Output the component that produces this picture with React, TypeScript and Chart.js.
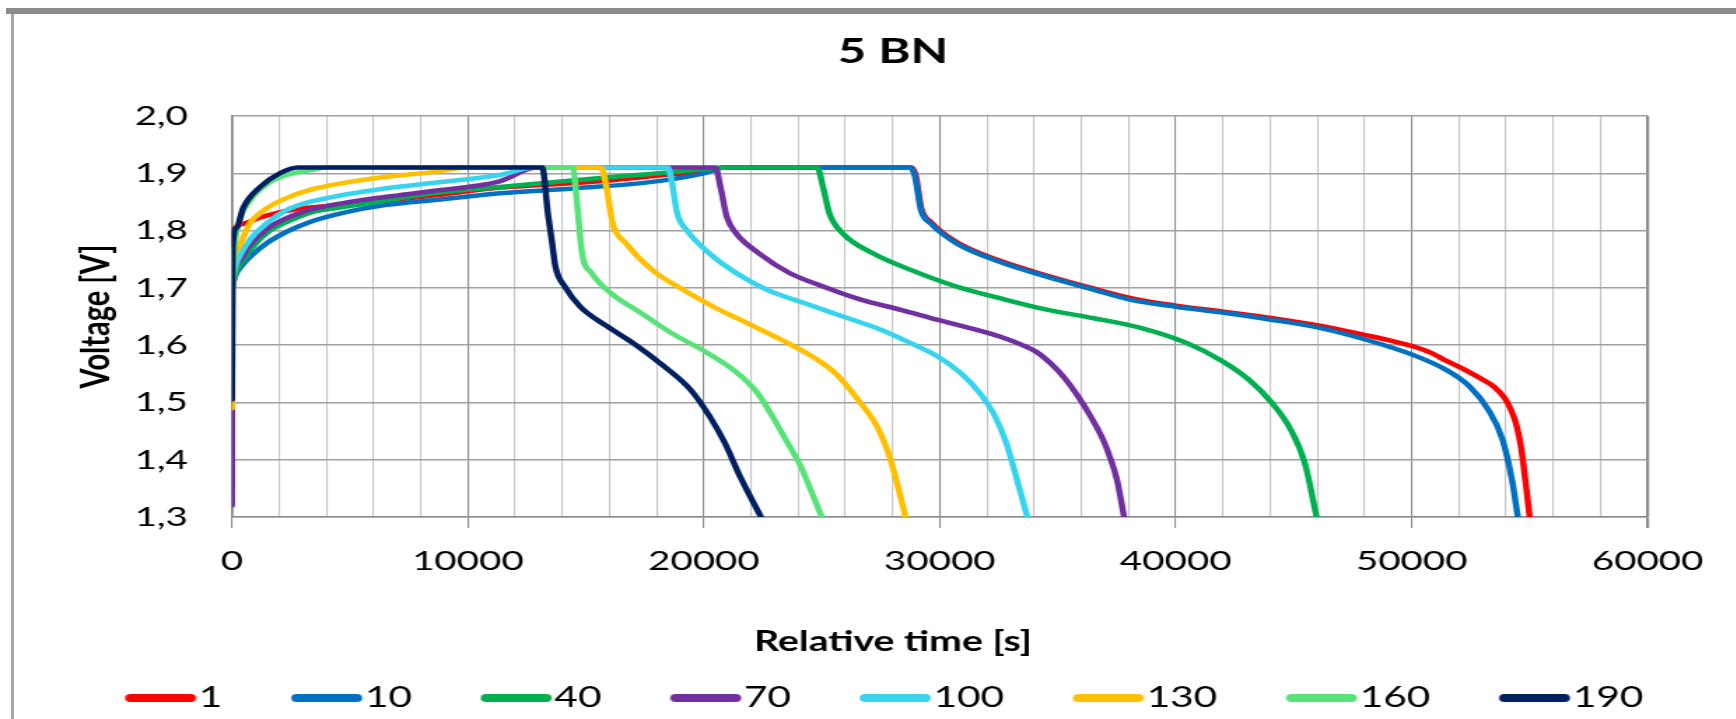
import React, { useEffect, useRef } from 'react';
import { Chart, registerables } from 'chart.js';

Chart.register(...registerables);

// ---------- data ----------
const seriesLabels = ['1', '10', '40', '70', '100', '130', '160', '190'];
const seriesColors = ['#FF0000', '#0070C0', '#00B050', '#7030A0', '#38D4EE', '#FFC000', '#5AE27A', '#002060'];

const xTickLabels = ['0', '10000', '20000', '30000', '40000', '50000', '60000'];
const yTickLabels = ['1,3', '1,4', '1,5', '1,6', '1,7', '1,8', '1,9', '2,0'];

const t1 = [0, 40, 500, 1200, 2800, 4700, 6500, 8500, 11400, 12900, 15600, 17800, 20000, 20800, 28800, 28980, 29220, 29620, 30700, 32500, 34500, 36500, 38100, 40000, 42100, 44100, 46100, 48100, 49100, 50050, 50800, 51450, 52300, 53000, 53500, 53930, 54200, 54430, 54600, 54730, 55000];
const v1 = [1.775, 1.797, 1.812, 1.823, 1.838, 1.845, 1.852, 1.861, 1.875, 1.879, 1.886, 1.895, 1.904, 1.91, 1.91, 1.896, 1.838, 1.815, 1.78, 1.748, 1.722, 1.699, 1.682, 1.669, 1.658, 1.647, 1.634, 1.617, 1.608, 1.598, 1.587, 1.573, 1.556, 1.54, 1.527, 1.508, 1.488, 1.462, 1.43, 1.394, 1.3];

const t10 = [0, 150, 400, 760, 1480, 2330, 3300, 4700, 6550, 8500, 11350, 14600, 17800, 20000, 20900, 28750, 28950, 29200, 29600, 30700, 32500, 34500, 36500, 38100, 40000, 42100, 44100, 46100, 48100, 50050, 51450, 52450, 53250, 53850, 54250, 54500];
const v10 = [1.7, 1.722, 1.738, 1.754, 1.778, 1.798, 1.815, 1.831, 1.845, 1.853, 1.865, 1.874, 1.885, 1.9, 1.91, 1.91, 1.894, 1.836, 1.813, 1.778, 1.746, 1.72, 1.697, 1.679, 1.667, 1.656, 1.644, 1.63, 1.609, 1.583, 1.557, 1.528, 1.487, 1.435, 1.365, 1.3];

const t40 = [0, 150, 400, 760, 1480, 2330, 3300, 4700, 6550, 8500, 11350, 16200, 19000, 21000, 24800, 25080, 25320, 25890, 27180, 28790, 30730, 32540, 34530, 36520, 38510, 40500, 41890, 43090, 44080, 44880, 45470, 45970];
const v40 = [1.7, 1.725, 1.745, 1.766, 1.796, 1.815, 1.831, 1.841, 1.853, 1.865, 1.876, 1.894, 1.903, 1.91, 1.91, 1.871, 1.83, 1.795, 1.76, 1.731, 1.702, 1.682, 1.662, 1.647, 1.63, 1.603, 1.574, 1.54, 1.499, 1.452, 1.394, 1.3];

const t70 = [0, 15, 150, 760, 1480, 2330, 3300, 4700, 6550, 8500, 11350, 12900, 20480, 20730, 20970, 21370, 22340, 23630, 25080, 26690, 28310, 29920, 31530, 32540, 33500, 34100, 34700, 35300, 35900, 36400, 36920, 37250, 37510, 37810];
const v70 = [1.32, 1.7, 1.74, 1.775, 1.803, 1.822, 1.836, 1.848, 1.859, 1.869, 1.886, 1.91, 1.91, 1.871, 1.824, 1.795, 1.76, 1.726, 1.702, 1.679, 1.662, 1.644, 1.627, 1.615, 1.6, 1.588, 1.568, 1.542, 1.508, 1.475, 1.435, 1.4, 1.365, 1.3];

const t100 = [0, 100, 250, 760, 1480, 2330, 3300, 4700, 6550, 8500, 11350, 12800, 18470, 18630, 18870, 19270, 20240, 21370, 22660, 24280, 25890, 27500, 28790, 29920, 30890, 31700, 32340, 32820, 33150, 33710];
const v100 = [1.7, 1.73, 1.749, 1.784, 1.813, 1.836, 1.85, 1.862, 1.874, 1.883, 1.897, 1.91, 1.91, 1.888, 1.83, 1.801, 1.76, 1.726, 1.697, 1.673, 1.65, 1.627, 1.603, 1.58, 1.551, 1.516, 1.476, 1.429, 1.383, 1.3];

const t130 = [0, 20, 200, 760, 1480, 2330, 3300, 4700, 6550, 8500, 10000, 15650, 15890, 16130, 16690, 17820, 19110, 20400, 21860, 23310, 24600, 25570, 26530, 27340, 27820, 28150, 28550];
const v130 = [1.49, 1.71, 1.766, 1.813, 1.839, 1.857, 1.871, 1.883, 1.894, 1.902, 1.91, 1.91, 1.871, 1.813, 1.778, 1.731, 1.697, 1.667, 1.638, 1.609, 1.58, 1.551, 1.505, 1.458, 1.412, 1.365, 1.3];

const t160 = [0, 80, 300, 760, 1480, 2330, 3300, 4000, 14450, 14600, 14840, 15240, 16050, 17340, 18630, 19920, 21050, 21600, 22300, 22900, 23470, 24110, 24550, 25000];
const v160 = [1.7, 1.76, 1.815, 1.852, 1.881, 1.897, 1.905, 1.91, 1.91, 1.859, 1.76, 1.726, 1.691, 1.656, 1.621, 1.592, 1.563, 1.545, 1.515, 1.476, 1.435, 1.388, 1.345, 1.3];

const t190 = [0, 30, 200, 470, 1190, 2030, 2800, 13150, 13390, 13550, 13710, 14110, 14760, 15890, 17020, 18310, 19440, 20240, 20890, 21530, 22420];
const v190 = [1.505, 1.772, 1.805, 1.839, 1.876, 1.9, 1.91, 1.91, 1.83, 1.784, 1.737, 1.702, 1.667, 1.633, 1.603, 1.563, 1.522, 1.476, 1.429, 1.371, 1.3];

const seriesTimes = [t1, t10, t40, t70, t100, t130, t160, t190];
const seriesVolts = [v1, v10, v40, v70, v100, v130, v160, v190];

// ---------- layout (page px; canvas is stretched horizontally by S) ----------
const S = 1.4;
const CW = 1276;
const CH = 719;
const c = (cssX: number) => cssX / S;

const FONT = 'Lato';

// legend geometry (canvas units)
const LEG_FONT = 29;
const PILL_LEN = 50.7;
const PILL_H = 8;
const LEG_GAP = 2;
const LEG_BOX = PILL_LEN - LEG_FONT + 2 * LEG_GAP;
const LEG_PAD = 118.6 - LEG_BOX - LEG_FONT / 2 - 0.58 * LEG_FONT;

function makePill(color: string) {
  const w = Math.ceil(PILL_LEN) + 2;
  const h = PILL_H + 2;
  const cv = document.createElement('canvas');
  cv.width = w;
  cv.height = h;
  const g = cv.getContext('2d')!;
  const x0 = (w - PILL_LEN) / 2;
  const y0 = (h - PILL_H) / 2;
  const r = PILL_H / 2;
  g.fillStyle = color;
  g.beginPath();
  g.moveTo(x0 + r, y0);
  g.lineTo(x0 + PILL_LEN - r, y0);
  g.arc(x0 + PILL_LEN - r, y0 + r, r, -Math.PI / 2, Math.PI / 2);
  g.lineTo(x0 + r, y0 + PILL_H);
  g.arc(x0 + r, y0 + r, r, Math.PI / 2, Math.PI * 1.5);
  g.closePath();
  g.fill();
  return cv;
}

export default function App() {
  const ref = useRef<HTMLCanvasElement | null>(null);

  useEffect(() => {
    const canvas = ref.current;
    if (!canvas) return;

    const pills = seriesColors.map((col) => makePill(col));

    const datasets = seriesLabels.map((label, i) => ({
      label,
      data: seriesTimes[i].map((t, k) => ({ x: t, y: seriesVolts[i][k] })),
      borderColor: seriesColors[i],
      backgroundColor: seriesColors[i],
      borderWidth: 4.5,
      pointRadius: 0,
      pointHoverRadius: 0,
      cubicInterpolationMode: 'monotone' as const,
      borderCapStyle: 'round' as const,
      borderJoinStyle: 'round' as const,
      order: seriesLabels.length - i,
      fill: false,
    }));

    const isMajor = (v: number) => Math.abs(v % 10000) < 1e-6;

    const plotBottom = 517;
    const xAxisH = 65;
    const legendCenter = 698;
    const legendH = LEG_FONT + LEG_PAD + 10;
    const legendTop = legendCenter - LEG_PAD - LEG_FONT / 2;
    const bottomPad = CH - (legendTop + legendH);
    const subFont = 28;
    const subLH = subFont * 1.2;
    const subCenter = 642;
    const subTop = plotBottom + xAxisH;
    const subPadTop = subCenter - subTop - subLH / 2;
    const subPadBottom = legendTop - subTop - subPadTop - subLH;

    const titleFont = 35;
    const titleLH = titleFont * 1.2;
    const titleCenter = 51.5;
    const titlePadTop = titleCenter - titleLH / 2;
    const titlePadBottom = 116 - titlePadTop - titleLH;

    const tickFont = 27.5;

    const chart = new Chart(canvas, {
      type: 'line',
      data: { datasets },
      options: {
        responsive: false,
        maintainAspectRatio: false,
        animation: false,
        devicePixelRatio: 1,
        events: [],
        layout: { padding: { left: 0, right: 0, top: 0, bottom: bottomPad } },
        scales: {
          x: {
            type: 'linear',
            position: 'bottom',
            min: 0,
            max: 60000,
            afterFit: (s: any) => { s.height = xAxisH; },
            ticks: {
              stepSize: 2000,
              autoSkip: false,
              maxRotation: 0,
              minRotation: 0,
              padding: 561 - plotBottom - 11 - (tickFont * 1.2) / 2,
              color: '#000',
              font: { family: FONT, size: tickFont },
              callback: (v: any) => {
                const n = Number(v);
                return isMajor(n) ? xTickLabels[Math.round(n / 10000)] : '';
              },
            },
            grid: {
              color: (ctx: any) => (ctx.tick && isMajor(ctx.tick.value) ? '#8c8c8c' : '#c4c4c4'),
              lineWidth: (ctx: any) => (ctx.tick && ctx.tick.value === 60000 ? 2.2 : 1.1),
              tickColor: (ctx: any) => (ctx.tick && isMajor(ctx.tick.value) ? '#8c8c8c' : 'rgba(0,0,0,0)'),
              tickLength: 11,
              drawTicks: true,
            },
            border: { color: '#8c8c8c', width: 1.5 },
            title: { display: false },
          },
          y: {
            type: 'linear',
            position: 'left',
            min: 1.3,
            max: 2.0,
            afterFit: (s: any) => { s.width = c(232); },
            ticks: {
              stepSize: 0.1,
              padding: c(232) - c(188),
              color: '#000',
              font: { family: FONT, size: tickFont },
              callback: (v: any) => {
                const i = Math.round(Number(v) * 10) - 13;
                return yTickLabels[i] ?? '';
              },
            },
            grid: { color: '#a0a0a0', lineWidth: 1.4, drawTicks: false },
            border: { color: '#8c8c8c', width: 1.8 },
            title: {
              display: true,
              text: 'Voltage [V]',
              color: '#000',
              font: { family: FONT, size: 29, weight: 'bold' },
              padding: { top: c(96) - 17.4, bottom: 0 },
            },
          },
          yR: {
            type: 'linear',
            position: 'right',
            display: true,
            grid: { display: false, drawTicks: false },
            ticks: { display: false },
            border: { display: false },
            afterFit: (s: any) => { s.width = CW - c(1648); },
          },
        },
        plugins: {
          tooltip: { enabled: false },
          title: {
            display: true,
            text: '5 BN',
            color: '#000',
            font: { family: FONT, size: titleFont, weight: 'bold', lineHeight: 1.2 },
            padding: { top: titlePadTop, bottom: titlePadBottom },
          },
          subtitle: {
            display: true,
            text: 'Relative time [s]',
            position: 'bottom',
            weight: 500,
            color: '#000',
            font: { family: FONT, size: subFont, weight: 'bold', lineHeight: 1.2 },
            padding: { top: subPadTop, bottom: subPadBottom },
          },
          legend: {
            display: true,
            position: 'bottom',
            weight: 1000,
            labels: {
              usePointStyle: true,
              pointStyleWidth: LEG_BOX,
              boxHeight: PILL_H,
              padding: LEG_PAD,
              color: '#000',
              font: { family: FONT, size: LEG_FONT },
              generateLabels: (ch: any) =>
                ch.data.datasets.map((ds: any, i: number) => ({
                  text: ds.label,
                  fillStyle: ds.borderColor,
                  strokeStyle: ds.borderColor,
                  lineWidth: 0,
                  pointStyle: pills[i],
                  hidden: false,
                  datasetIndex: i,
                  fontColor: '#000',
                })),
              sort: (a: any, b: any) => a.datasetIndex - b.datasetIndex,
            },
          },
        },
      } as any,
    });

    return () => chart.destroy();
  }, []);

  return (
    <div style={{ position: 'absolute', left: 0, top: 0, width: 1736, height: 719, overflow: 'hidden', background: '#fff' }}>
      <canvas
        ref={ref}
        width={CW}
        height={CH}
        style={{ position: 'absolute', left: 0, top: 0, width: `${CW * S}px`, height: `${CH}px`, display: 'block' }}
      />
      <div style={{ position: 'absolute', left: 6, top: 8, width: 1730, height: 6, background: '#8c8c8c' }} />
      <div style={{ position: 'absolute', left: 11, top: 14, width: 3, height: 705, background: '#a6a6a6' }} />
    </div>
  );
}
